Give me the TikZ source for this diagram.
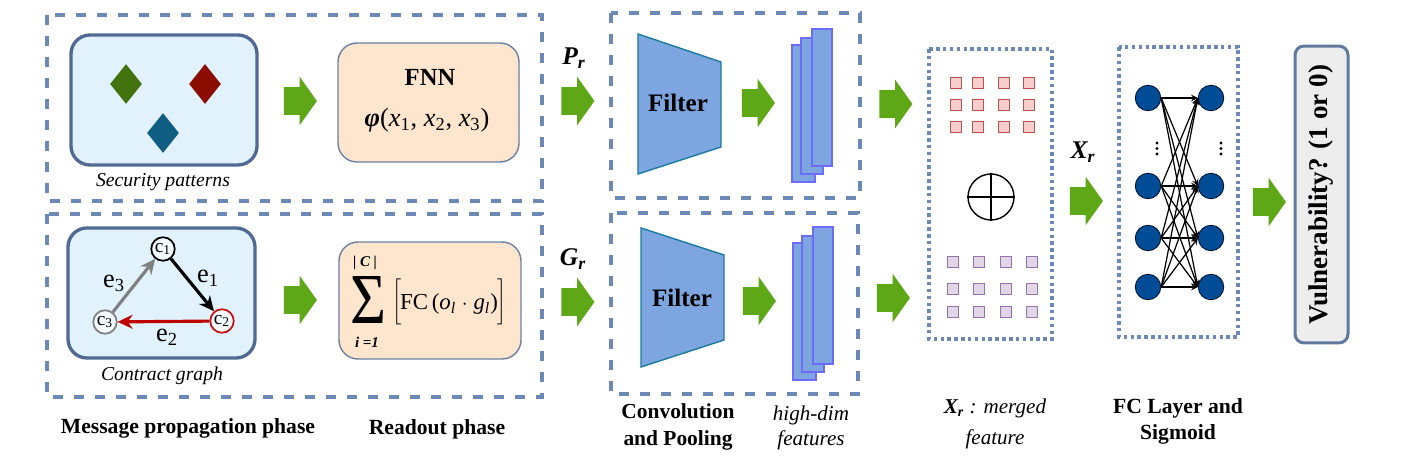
\documentclass[tikz,border=0pt]{standalone}
\usepackage{fontspec}
\setmainfont{Liberation Serif}
\usepackage{amssymb, amsmath}
\usetikzlibrary{shapes.geometric, shapes.arrows, arrows.meta}
\definecolor{dashblue}{RGB}{108, 137, 182}
\definecolor{framedark}{RGB}{80, 106, 146}
\definecolor{paleblue}{RGB}{225, 242, 253}
\definecolor{paleorange}{RGB}{254, 229, 206}
\definecolor{arrowgreen}{RGB}{94, 168, 24}
\definecolor{filterblue}{RGB}{125, 166, 224}
\definecolor{filteredge}{RGB}{27, 122, 158}
\definecolor{sheetedge}{RGB}{108, 108, 248}
\definecolor{neuron}{RGB}{0, 76, 151}
\definecolor{redsq}{RGB}{184, 84, 80}
\definecolor{redfill}{RGB}{248, 206, 204}
\definecolor{purplesq}{RGB}{150, 115, 166}
\definecolor{purplefill}{RGB}{225, 213, 231}
\tikzset{
  dashbox/.style={dashblue, line width=1.9pt, dash pattern=on 0.21cm off 0.21cm},
  dotbox/.style={dashblue, line width=2pt, dash pattern=on 2pt off 1.9pt},
  paneblue/.style={draw=framedark, fill=paleblue, line width=1.9pt, rounded corners=0.38cm},
  paneorange/.style={draw=framedark!85, fill=paleorange, line width=0.8pt, rounded corners=0.38cm},
  gem/.style={diamond, aspect=0.8, minimum width=0.64cm, minimum height=0.8cm, inner sep=0},
  bigarrow/.style={single arrow, fill=arrowgreen, inner xsep=0, inner ysep=0.27cm, minimum height=0.66cm,
    single arrow head extend=0.21cm, single arrow tip angle=109, anchor=center},
  trapez/.style={draw=filteredge, fill=filterblue, line width=0.8pt},
  sheet/.style={draw=sheetedge, fill=filterblue, line width=1pt},
  call/.style={circle, draw, fill=paleblue!40!white, line width=1pt, minimum size=0.47cm, inner sep=0, font=\fontsize{11}{11}\selectfont},
  graphedge/.style={-{Stealth[length=0.3cm, width=0.28cm]}, line width=1.8pt},
  sq/.style={rectangle, minimum size=0.22cm, inner sep=0, line width=1.1pt},
  unit/.style={circle, draw=black!70!neuron, fill=neuron, minimum size=0.51cm, inner sep=0, line width=0.5pt},
  speck/.style={circle, fill=black, minimum size=0.065cm, inner sep=0},
  phase/.style={font=\fontsize{12.3}{15}\selectfont\bfseries, align=center},
  note/.style={font=\fontsize{11.2}{14}\selectfont\itshape, align=center},
  edgelab/.style={font=\fontsize{15}{15}\selectfont},
  mathlab/.style={font=\fontsize{14.5}{15}\selectfont\bfseries\itshape}
}
\begin{document}
\begin{tikzpicture}[x=0.02cm, y=-0.02cm]

  \useasboundingbox (0, 0) rectangle (1405, 465);

  % outer boxes
  \draw[dashbox] (47, 15) rectangle (542, 201);
  \draw[dashbox] (47, 214) rectangle (542, 397);
  \draw[dashbox] (611, 13) rectangle (860, 198);
  \draw[dashbox] (611, 213) rectangle (858, 394);
  \draw[dotbox] (929, 49) rectangle (1052, 339);
  \draw[dotbox] (1119, 47) rectangle (1238, 337);

  % security patterns
  \draw[paneblue] (71, 35) rectangle (257, 165);
  \node[gem, fill={rgb,255:red,67;green,115;blue,15}] (gemgreen) at (126, 84) {};
  \node[gem, fill={rgb,255:red,139;green,13;blue,2}] (gemred) at (205, 84) {};
  \node[gem, fill={rgb,255:red,15;green,94;blue,130}] (gemteal) at (163, 133) {};
  \node[note] (seclab) at (163, 182) {Security patterns};

  \draw[paneorange] (338, 43) rectangle (519, 162);
  \node[font=\fontsize{14}{15}\selectfont\bfseries] (fnn) at (430, 77) {FNN};
  \node[font=\fontsize{15}{15}\selectfont] (phi) at (427, 120)
    {\textbf{\textit{φ}}(\textit{x}\textsubscript{1}, \textit{x}\textsubscript{2}, \textit{x}\textsubscript{3})};

  % contract graph
  \draw[paneblue] (68, 228) rectangle (255, 358);
  \node[call, draw=black] (c1) at (163, 249) {c\textsubscript{1}};
  \node[call, draw={rgb,255:red,200;green,16;blue,16}] (c2) at (222, 321) {c\textsubscript{2}};
  \node[call, draw=gray] (c3) at (105, 322) {c\textsubscript{3}};
  \draw[graphedge] (c1) -- (c2);
  \draw[graphedge, red!75!black] (c2) -- (c3);
  \draw[graphedge, gray] (c3) -- (c1);
  \node[edgelab] (e1) at (208, 278) {e\textsubscript{1}};
  \node[edgelab] (e2) at (167, 337) {e\textsubscript{2}};
  \node[edgelab] (e3) at (114, 283) {e\textsubscript{3}};
  \node[note] (gralab) at (162, 376) {Contract graph};

  \draw[paneorange] (339, 242) rectangle (521, 359);
  \node[inner sep=0, font=\fontsize{8.5}{9}\selectfont\bfseries\itshape] (card) at (365, 263) {| \textit{C} |};
  \node[inner sep=0] (sigma) at (368, 300) {\resizebox*{0.72cm}{0.94cm}{Σ}};
  \node[inner sep=0, font=\fontsize{8.5}{9}\selectfont\bfseries\itshape] (lower) at (367, 342) {i =1};
  \node[inner sep=0] (lbrack) at (397, 302) {\resizebox*{0.18cm}{0.92cm}{$\Bigg[$}};
  \node[inner sep=0] (rbrack) at (502, 302) {\resizebox*{0.18cm}{0.92cm}{$\Bigg]$}};
  \node[font=\fontsize{13}{15}\selectfont] (fcterm) at (449, 304)
    {FC\,(\textit{o}\textsubscript{\textit{l}} $\cdot$ \textit{g}\textsubscript{\textit{l}})};

  % block arrows
  \foreach \x/\y/\n in {295.5/101/a, 295.5/300/b, 573/101/c, 573/302/d, 753.5/103/e, 754.5/301/f,
    891/104/g, 888.5/298/h, 1081.5/201/i, 1264.5/202/j}
    \node[bigarrow] (arrow\n) at (\x, \y) {};

  \node[mathlab] (pr) at (574, 58) {P\textsubscript{r}};
  \node[mathlab] (gr) at (573, 259) {G\textsubscript{r}};
  \node[mathlab] (xr) at (1083, 152) {X\textsubscript{r}};

  % filters
  \draw[trapez] (638, 34) -- (721, 62) -- (721, 147) -- (638, 174) -- cycle;
  \node[font=\fontsize{14.3}{15}\selectfont\bfseries] (filtera) at (678, 103) {Filter};
  \draw[trapez] (641, 228) -- (724, 255) -- (724, 340) -- (641, 367) -- cycle;
  \node[font=\fontsize{14.3}{15}\selectfont\bfseries] (filterb) at (682, 298) {Filter};

  % feature sheets
  \draw[sheet] (792, 45) rectangle (815, 182);
  \draw[sheet] (801, 38) rectangle (823, 174);
  \draw[sheet] (812, 29) rectangle (832, 166);
  \draw[sheet] (793, 243) rectangle (816, 380);
  \draw[sheet] (802, 236) rectangle (824, 372);
  \draw[sheet] (813, 227) rectangle (833, 364);

  % merged feature
  \foreach \x in {956, 978, 1004, 1029}
    \foreach \y in {83, 105, 127}
      \node[sq, draw=redsq, fill=redfill] (red\x-\y) at (\x, \y) {};
  \foreach \x in {953, 979, 1006, 1032}
    \foreach \y in {262, 289, 312}
      \node[sq, draw=purplesq, fill=purplefill] (pur\x-\y) at (\x, \y) {};
  \node[circle, draw, line width=0.8pt, minimum size=0.92cm, inner sep=0] (oplus) at (991, 197) {};
  \draw[line width=0.8pt] (oplus.north) -- (oplus.south);
  \draw[line width=1pt] (oplus.west) -- (oplus.east);

  % fully connected layer
  \foreach \y/\i in {98/1, 186/2, 238/3, 287/4} {
    \node[unit] (left\i) at (1148, \y) {};
    \node[unit] (right\i) at (1211, \y) {};
  }
  \foreach \i in {1, 2, 3, 4}
    \foreach \j in {1, 2, 3, 4}
      \draw[->, >=stealth, line width=0.7pt] (left\i.east) -- (right\j.west);
  \foreach \y in {143, 148.5, 154} {
    \node[speck] (specka\y) at (1157, \y) {};
    \node[speck] (speckb\y) at (1221, \y) {};
  }

  % output
  \node[draw=framedark!90, fill=black!7, line width=1.7pt, rounded corners=0.18cm, rotate=90,
    minimum width=5.94cm, minimum height=1.06cm, inner sep=0,
    font=\fontsize{15.4}{16}\selectfont\bfseries] (vuln) at (1321.5, 194.5) {Vulnerability? (1 or 0)};

  % captions
  \node[phase] (msglab) at (188, 428) {Message propagation phase};
  \node[phase] (readlab) at (437, 429) {Readout phase};
  \node[phase, font=\fontsize{12.2}{15.3}\selectfont\bfseries] (convlab) at (678, 426.5) {Convolution\\and Pooling};
  \node[note, font=\fontsize{12}{14.2}\selectfont\itshape] (dimlab) at (811, 427.5) {high-dim\\features};
  \node[note, font=\fontsize{12}{17.6}\selectfont\itshape] (mergelab) at (995, 423.5)
    {\textbf{X\textsubscript{r}} : merged\\feature};
  \node[phase, font=\fontsize{12.3}{14.7}\selectfont\bfseries] (fclab) at (1178, 421) {FC Layer and\\Sigmoid};

\end{tikzpicture}
\end{document}
